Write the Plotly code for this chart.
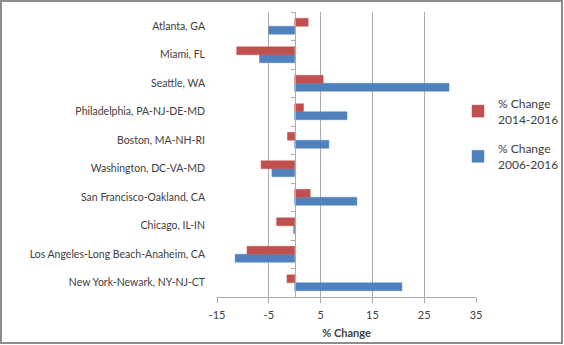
import plotly.graph_objects as go

cities = ["Atlanta, GA", "Miami, FL", "Seattle, WA", "Philadelphia, PA-NJ-DE-MD",
          "Boston, MA-NH-RI", "Washington, DC-VA-MD", "San Francisco-Oakland, CA",
          "Chicago, IL-IN", "Los Angeles-Long Beach-Anaheim, CA", "New York-Newark, NY-NJ-CT"]
chg_2014_2016 = [2.6, -11.2, 5.5, 1.7, -1.4, -6.5, 3.0, -3.5, -9.2, -1.5]
chg_2006_2016 = [-5.0, -6.8, 29.8, 10.1, 6.6, -4.4, 12.0, -0.2, -11.5, 20.7]
x_ticks = [-15, -5, 5, 15, 25, 35]

FONT = "Lato"
FS = 10.5
TXT = "#404040"
GRID = "#ababab"

fig = go.Figure()
fig.add_trace(go.Bar(y=cities, x=chg_2006_2016, orientation="h", name="% Change<br>2006-2016",
                     legendgroup="b", legendrank=2,
                     marker=dict(color="#4F81BD", line=dict(color="rgba(79,129,189,0.45)", width=1))))
fig.add_trace(go.Bar(y=cities, x=chg_2014_2016, orientation="h", name="% Change<br>2014-2016",
                     legendgroup="a", legendrank=1,
                     marker=dict(color="#C0504D", line=dict(color="rgba(192,80,77,0.45)", width=1))))
# helper trace for the zero category axis with boundary ticks
fig.add_trace(go.Scatter(y=cities, x=[0] * len(cities), yaxis="y2", mode="markers",
                         marker=dict(opacity=0), showlegend=False, hoverinfo="skip"))

L, R, T, B = 217, 88, 12, 48
W, H = 564, 345
pw = W - L - R
ph = H - T - B
cat_order = list(reversed(cities))

fig.update_layout(
    width=W, height=H,
    margin=dict(l=L, r=R, t=T, b=B, autoexpand=False),
    paper_bgcolor="white", plot_bgcolor="white",
    barmode="group", bargap=0.44, bargroupgap=0,
    font=dict(family=FONT, size=FS, color=TXT),
    showlegend=True,
    legend=dict(x=(458 - L) / pw, y=(297 - 89) / ph, xanchor="left", yanchor="top",
                traceorder="grouped", font=dict(family=FONT, size=12, color=TXT),
                itemwidth=30, tracegroupgap=11, bgcolor="rgba(0,0,0,0)"),
    xaxis=dict(range=[-15, 35], tickvals=x_ticks, ticktext=[str(v) for v in x_ticks],
               showgrid=True, gridcolor=GRID, gridwidth=1, zeroline=False,
               showline=True, linecolor=GRID, linewidth=1,
               ticks="outside", ticklen=5, tickcolor=GRID, ticklabelstandoff=3,
               tickfont=dict(family=FONT, size=FS + 0.5, color=TXT),
               title=dict(text="<b>% Change</b>", font=dict(family=FONT, size=FS + 0.5, color=TXT), standoff=9)),
    yaxis=dict(type="category", categoryorder="array", categoryarray=cat_order,
               range=[-0.5, len(cities) - 0.5], showgrid=False, zeroline=False, showline=False,
               ticks="", ticklabelstandoff=11,
               tickfont=dict(family=FONT, size=FS, color=TXT)),
    yaxis2=dict(type="category", categoryorder="array", categoryarray=cat_order,
                range=[-0.5, len(cities) - 0.5], overlaying="y", anchor="free",
                position=15 / 50, side="left", showgrid=False, zeroline=False,
                showline=True, linecolor=GRID, linewidth=1,
                ticks="outside", tickson="boundaries", ticklen=4, tickcolor=GRID,
                showticklabels=False),
    shapes=[dict(type="rect", xref="paper", yref="paper",
                 x0=(1 - L) / pw, x1=(562 - L) / pw,
                 y0=(H - B - 343) / ph, y1=(H - B - 1) / ph,
                 line=dict(color="#8c8c8c", width=2), fillcolor="rgba(0,0,0,0)", layer="above")],
)

fig.write_html("out.html")
